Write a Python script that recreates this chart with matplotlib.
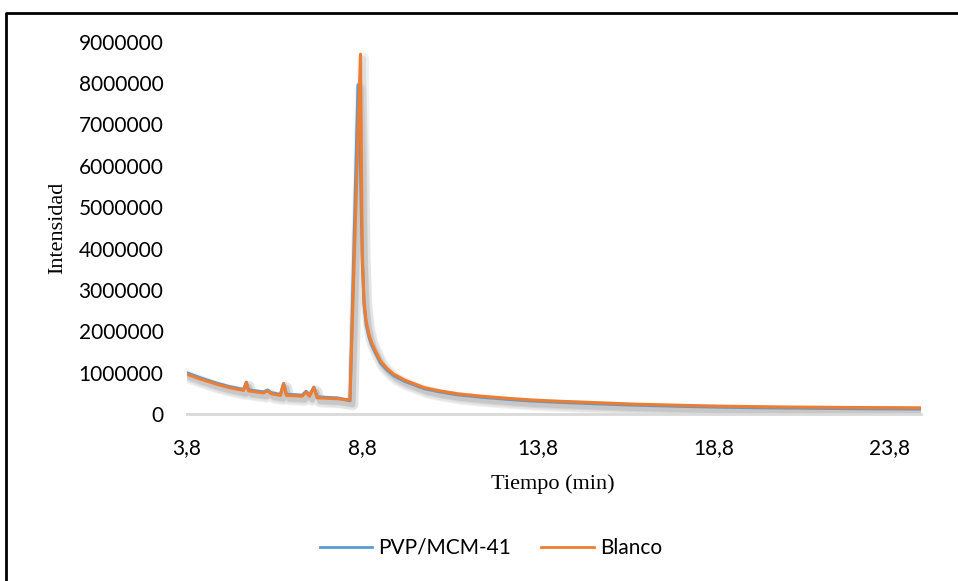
import numpy as np
import matplotlib.pyplot as plt
import matplotlib.patheffects as pe
from matplotlib.lines import Line2D

# tiempo (min) and intensities
tiempo = [3.8, 4.2, 4.65, 5.0, 5.41, 5.49, 5.55, 5.8, 5.98, 6.09, 6.2, 6.46, 6.55, 6.63,
          6.9, 7.08, 7.19, 7.29, 7.41, 7.51, 7.8, 8.08, 8.44, 8.67, 8.74, 8.79, 8.84,
          8.9, 8.98, 9.05, 9.15, 9.31, 9.5, 9.69, 10.0, 10.55, 11.0, 11.5, 12.2, 12.93,
          13.6, 14.36, 15.0, 15.6, 16.5, 17.89, 19.0, 20.74, 22.5, 24.7]

blanco = [960000, 840000, 720000, 640000, 570000, 760000, 560000, 530000, 510000, 560000,
          490000, 450000, 730000, 450000, 440000, 430000, 530000, 430000, 640000, 390000,
          380000, 370000, 340000, 6750000, 8700000, 3900000, 2750000, 2250000, 1930000,
          1740000, 1550000, 1280000, 1100000, 960000, 820000, 640000, 560000, 490000,
          430000, 380000, 340000, 310000, 290000, 270000, 240000, 210000, 190000, 170000,
          160000, 150000]

pvp = [995000, 870000, 745000, 665000, 595000, 770000, 585000, 555000, 535000, 580000,
       515000, 475000, 740000, 475000, 465000, 455000, 550000, 455000, 650000, 415000,
       400000, 390000, 320000, 7960000, 6000000, 3700000, 2650000, 2170000, 1860000,
       1680000, 1500000, 1230000, 1060000, 925000, 790000, 615000, 535000, 465000,
       405000, 355000, 315000, 285000, 262000, 243000, 215000, 185000, 165000, 145000,
       132000, 120000]

y_ticks = [0, 1000000, 2000000, 3000000, 4000000, 5000000, 6000000, 7000000, 8000000, 9000000]
x_ticks = [3.8, 8.8, 13.8, 18.8, 23.8]
x_labels = ['3,8', '8,8', '13,8', '18,8', '23,8']

fig = plt.figure(figsize=(9.58, 5.81), dpi=100)
ax = fig.add_axes([0.1952, 0.2874, 0.7662, 0.6408])

# soft grey shadow like the Excel line effect
shadow = [pe.SimpleLineShadow(offset=(2, -3), shadow_color='0.55', alpha=0.12, linewidth=8),
          pe.SimpleLineShadow(offset=(2, -3), shadow_color='0.55', alpha=0.18, linewidth=4),
          pe.Normal()]

ax.plot(tiempo, pvp, color='#5B9BD5', lw=2.2, label='PVP/MCM-41', path_effects=shadow)
ax.plot(tiempo, blanco, color='#ED7D31', lw=2.2, label='Blanco', path_effects=shadow)

ax.set_xlim(3.8, 24.7)
ax.set_ylim(0, 9000000)
ax.set_yticks(y_ticks)
ax.set_yticklabels([str(v) for v in y_ticks])
ax.set_xticks(x_ticks)
ax.set_xticklabels(x_labels)

for s in ['top', 'right', 'left']:
    ax.spines[s].set_visible(False)
ax.spines['bottom'].set_color('#D9D9D9')
ax.spines['bottom'].set_linewidth(2)
ax.tick_params(length=0, labelsize=15, colors='black')
ax.tick_params(axis='y', pad=17)
ax.tick_params(axis='x', pad=17)
for lab in ax.get_xticklabels() + ax.get_yticklabels():
    lab.set_family('Lato')

# axis titles
fig.text(553 / 958, 1 - 484 / 581, 'Tiempo (min)', ha='center', va='center',
         family='Liberation Serif', fontsize=16)
fig.text(58 / 958, 1 - 228 / 581, 'Intensidad', ha='center', va='center', rotation=90,
         family='Liberation Serif', fontsize=16)

# legend at bottom
leg = fig.legend(loc='center', bbox_to_anchor=(491 / 958, 1 - 548 / 581), ncol=2,
                 frameon=False, prop={'family': 'Lato', 'size': 15},
                 handlelength=2.5, handletextpad=0.3, columnspacing=1.45)
for h in leg.get_lines():
    h.set_path_effects([])
    h.set_linewidth(2)

# chart area border (left and top only visible)
fig.add_artist(Line2D([6 / 958, 6 / 958, 1], [0, 1 - 13 / 581, 1 - 13 / 581],
                      color='black', lw=2, transform=fig.transFigure))

fig.savefig('out.png', dpi=100)
